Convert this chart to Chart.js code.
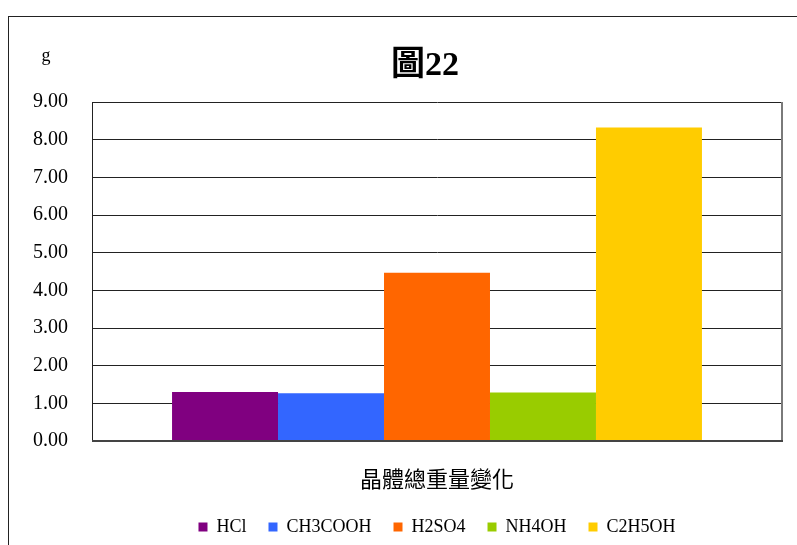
<!DOCTYPE html>
<html lang="zh-Hant">
<head>
  <meta charset="UTF-8">
  <title>圖22</title>
  <script src="https://cdn.jsdelivr.net/npm/chart.js"></script>
  <style>
    html, body { margin: 0; padding: 0; background: #fff; overflow: hidden; }
    .wrap { position: relative; width: 797px; height: 545px; }
    .frame { position: absolute; left: 8px; top: 16px; width: 900px; height: 700px; border: 1px solid #222; }
    #chart { position: absolute; left: 0; top: 0; }
  </style>
</head>
<body>
<div class="wrap">
  <div class="frame"></div>
  <canvas id="chart" width="797" height="545"></canvas>
</div>

<script>
  const categories = ["晶體總重量變化"];
  const seriesNames = ["HCl", "CH3COOH", "H2SO4", "NH4OH", "C2H5OH"];
  const seriesValues = [1.30, 1.27, 4.47, 1.29, 8.32];
  const yTicks = [0, 1, 2, 3, 4, 5, 6, 7, 8, 9];
  const chartTitle = "圖22";
  const unitLabel = "g";

  const palette = ["#800080", "#3366FF", "#FF6600", "#99CC00", "#FFCC00"];
  const serif = "'Liberation Serif', 'Noto Sans CJK TC', serif";

  // title (centred on the outer frame), unit label, and the plot frame edges
  const extras = {
    id: "extras",
    beforeDatasetsDraw(chart) {
      const { ctx, chartArea: a } = chart;
      ctx.save();
      ctx.strokeStyle = "#7a7a7a";
      ctx.lineWidth = 2;
      ctx.beginPath();
      ctx.moveTo(a.right, a.top);
      ctx.lineTo(a.right, a.bottom);
      ctx.stroke();
      ctx.restore();
    },
    afterDraw(chart) {
      const { ctx, chartArea: a } = chart;
      ctx.save();
      ctx.fillStyle = "#000";
      ctx.textAlign = "center";
      ctx.textBaseline = "middle";
      ctx.font = "bold 34px " + serif;
      ctx.fillText(chartTitle, 425, a.top - 36);
      ctx.font = "18px " + serif;
      ctx.fillText(unitLabel, a.left - 46, a.top - 46);
      ctx.strokeStyle = "#444";
      ctx.lineWidth = 2;
      ctx.beginPath();
      ctx.moveTo(a.left, a.bottom);
      ctx.lineTo(a.right + 1, a.bottom);
      ctx.stroke();
      ctx.restore();
    }
  };

  new Chart(document.getElementById("chart"), {
    type: "bar",
    data: {
      labels: categories,
      datasets: seriesNames.map((name, i) => ({
        label: name,
        data: [seriesValues[i]],
        backgroundColor: palette[i],
        borderWidth: 0,
        categoryPercentage: 0.768,
        barPercentage: 1
      }))
    },
    options: {
      responsive: false,
      animation: false,
      layout: { padding: { left: 28, right: 15, top: 102, bottom: 0 } },
      scales: {
        x: {
          grid: { display: false, drawTicks: false },
          border: { display: false },
          ticks: {
            color: "#000",
            padding: 24,
            font: { family: "'Noto Sans CJK TC', sans-serif", size: 22 }
          },
          afterFit(scale) { scale.height = 55; }
        },
        y: {
          min: 0,
          max: 9,
          afterBuildTicks(scale) { scale.ticks = yTicks.map(v => ({ value: v })); },
          grid: { color: "#222", lineWidth: 1, drawTicks: false },
          border: { display: true, color: "#222", width: 1 },
          ticks: {
            color: "#000",
            padding: 24,
            font: { family: serif, size: 20 },
            callback: v => Number(v).toFixed(2)
          },
          afterFit(scale) { scale.width = 64; }
        }
      },
      plugins: {
        title: { display: false },
        legend: {
          position: "bottom",
          fullSize: false,
          maxHeight: 49,
          labels: {
            color: "#000",
            boxWidth: 9,
            boxHeight: 9,
            padding: 22,
            font: { family: serif, size: 18 }
          }
        },
        tooltip: { enabled: false }
      }
    },
    plugins: [extras]
  });
</script>
</body>
</html>
